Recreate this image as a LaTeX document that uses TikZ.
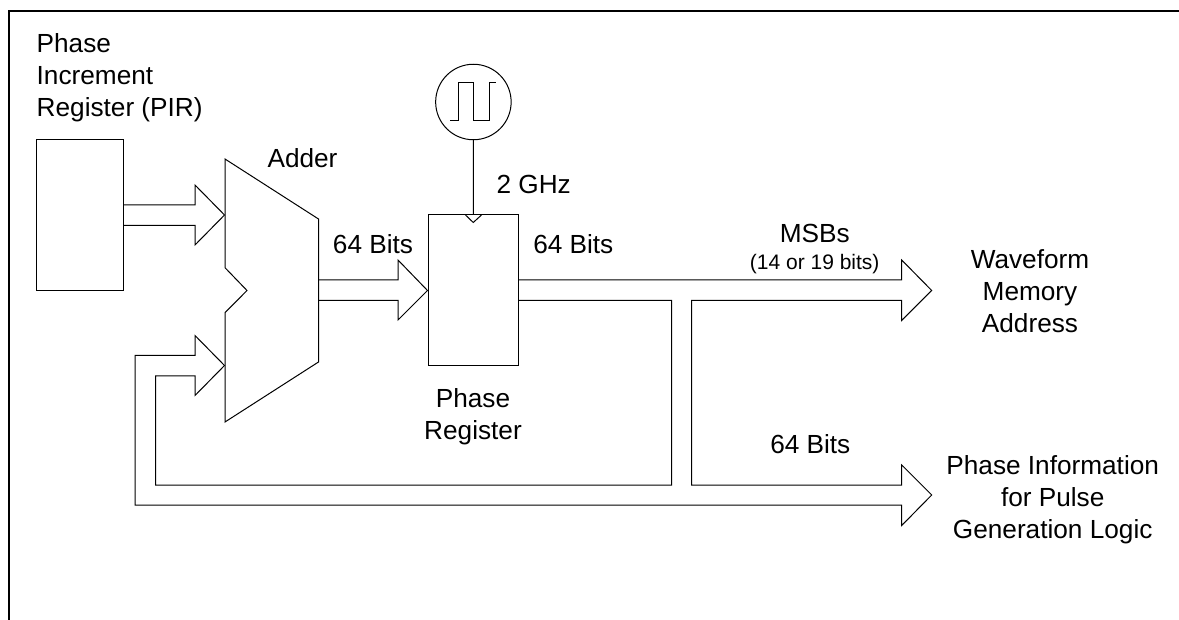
\documentclass[tikz,border=0pt]{standalone}
\usepackage{fontspec}
\setmainfont{Liberation Sans}
\newcommand{\fbig}{\fontsize{26.2}{32}\selectfont}
\newcommand{\fsmall}{\fontsize{21}{26}\selectfont}
\tikzset{
  lbl/.style={inner sep=0pt,align=center,text=black,font=\fbig},
  lblbase/.style={inner sep=0pt,anchor=base,text=black,font=\fbig},
  lblleft/.style={inner sep=0pt,align=left,text=black,font=\fbig},
  block/.style={draw=black,line width=1pt,fill=none,inner sep=0pt,rectangle},
  bus/.style={draw=black,line width=1pt,line join=miter},
  frameline/.style={draw=black,line width=2.2pt}
}
\begin{document}
\begin{tikzpicture}[x=1pt,y=-1pt]
\useasboundingbox (0,0) rectangle (1179,620);
\draw[frameline] (9.3,620) -- (9.3,11) -- (1179,11);
% blocks
\node[block,minimum width=87pt,minimum height=151pt] (pir) at (79.5,215) {};
\node[block,minimum width=90.5pt,minimum height=151pt] (reg) at (473.25,290.5) {};
\node[block,circle,minimum size=75.5pt] (clk) at (473.4,102) {};
% adder
\coordinate (a1) at (225,159); \coordinate (a2) at (318.5,219);
\coordinate (a3) at (318.5,362); \coordinate (a4) at (225,422);
\coordinate (a5) at (225,312.7); \coordinate (a6) at (247,290.5);
\coordinate (a7) at (225,267.7);
\draw[bus] (a1) -- (a2) -- (a3) -- (a4) -- (a5) -- (a6) -- (a7) -- cycle;
% clock
\draw[bus] (clk.south) -- (reg.north);
\draw[bus] (465.5,215) -- (reg.north |- 0,222.5) -- (481.5,215);
\draw[bus] (450,121) -- (458,121) -- (458,83) -- (473,83) -- (473,121) -- (489,121) -- (489,83) -- (496,83);
% arrow PIR -> adder
\draw[bus] (pir.east |- 0,205) -- (195,205) -- (195,185) -- (224.5,215) -- (195,245) -- (195,225.5) -- (pir.east |- 0,225.5);
% arrow adder -> reg
\draw[bus] (a2 |- 0,280) -- (398,280) -- (398,260) -- (reg.west) -- (398,320) -- (398,300.5) -- (a2 |- 0,300.5);
% outgoing bus and feedback
\coordinate (tipA) at (931.7,290.5);
\coordinate (tipB) at (931.7,495);
\coordinate (tipC) at (224.5,365.5);
\draw[bus] (reg.east |- 0,280) -- (901.7,280) -- (901.7,260) -- (tipA) -- (901.7,320.5) -- (901.7,300.5) -- (691.7,300.5) -- (691.7,485) -- (901.7,485) -- (901.7,465) -- (tipB) -- (901.7,525.5) -- (901.7,505) -- (135,505) -- (135,355.5) -- (195,355.5) -- (195,335.5) -- (tipC) -- (195,395.5) -- (195,376) -- (155.5,376) -- (155.5,485) -- (671.7,485) -- (671.7,300.5) -- (reg.east |- 0,300.5);
% labels
\node[lblleft,anchor=north west] (tpir) at (36.5,33) {Phase\\Increment\\Register (PIR)};
\node[lblbase] (tadd) at (302.5,167.7) {Adder};
\node[lblbase] (t64a) at (373,254) {64 Bits};
\node[lblbase] (tghz) at (533.7,194) {2 GHz};
\node[lblbase] (t64b) at (573.3,253.7) {64 Bits};
\node[lbl] (treg) at (473,416.5) {Phase\\Register};
\node[lblbase] (tmsb) at (814.7,242.7) {MSBs};
\node[lblbase,font=\fsmall] (tbits) at (814.7,269.5) {(14 or 19 bits)};
\node[lbl] (twave) at (1030,290.7) {Waveform\\Memory\\Address};
\node[lblbase] (t64c) at (810.3,453.5) {64 Bits};
\node[lbl] (tinfo) at (1052.7,500) {Phase Information\\for Pulse\\Generation Logic};
\end{tikzpicture}
\end{document}
